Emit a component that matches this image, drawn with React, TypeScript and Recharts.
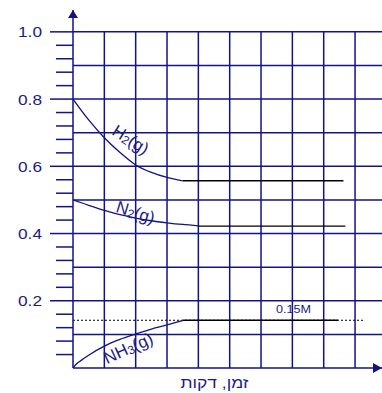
import React from "react";
import {
  LineChart,
  Line,
  XAxis,
  YAxis,
  ReferenceLine,
  ReferenceDot,
} from "recharts";

// time axis (grid units) and concentration (M)
const X_MAX = 9.86;
const Y_MAX = 1.065;

const H2_TIME = [0, 0.5, 1, 1.5, 2, 2.5, 3, 3.5];
const H2_CONC = [0.8, 0.738, 0.685, 0.641, 0.604, 0.582, 0.567, 0.557];
const H2_FLAT_TIME = [3.5, 8.63];
const H2_FLAT_CONC = [0.557, 0.557];

const N2_TIME = [0, 0.5, 1, 1.5, 2, 2.5, 3, 3.5, 4];
const N2_CONC = [0.5, 0.484, 0.469, 0.456, 0.446, 0.438, 0.432, 0.427, 0.423];
const N2_FLAT_TIME = [4, 8.69];
const N2_FLAT_CONC = [0.422, 0.422];

const NH3_TIME = [0, 0.1, 0.25, 0.5, 1, 1.5, 2, 2.5, 3, 3.5];
const NH3_CONC = [0, 0.011, 0.022, 0.038, 0.065, 0.085, 0.101, 0.116, 0.128, 0.141];
const NH3_FLAT_TIME = [3.5, 8.46];
const NH3_FLAT_CONC = [0.142, 0.142];
const EQ_LINE_TIME = [0, 9.26];
const EQ_LINE_CONC = [0.142, 0.142];

const X_GRID = [1, 2, 3, 4, 5, 6, 7, 8, 9];
const Y_GRID = [0.1, 0.2, 0.3, 0.4, 0.5, 0.6, 0.7, 0.8, 0.9, 1.0];
const Y_TICKS = [
  0.04, 0.08, 0.12, 0.16, 0.2, 0.24, 0.28, 0.32, 0.36, 0.4, 0.44, 0.48, 0.52,
  0.56, 0.6, 0.64, 0.68, 0.72, 0.76, 0.8, 0.84, 0.88, 0.92, 0.96, 1.0,
];
const Y_MAJOR = [0.2, 0.4, 0.6, 0.8, 1.0];

const SPECIES = ["H", "N", "NH"];
const SPECIES_SUB = ["2", "2", "3"];
const EQ_LABEL = "0.15M";
const X_TITLE = "זמן, דקות";

// where each curve label sits (data coords) and its tilt
const LABEL_POS = [
  { t: 1.84, c: 0.679, angle: 32 },
  { t: 1.995, c: 0.463, angle: 17 },
  { t: 1.765, c: 0.059, angle: -25 },
];

const NAVY = "#12128a";
const TEXT_NAVY = "#1c1c82";
const FONT = '"Liberation Sans", Arial, sans-serif';

const zip = (ts: number[], cs: number[]) => ts.map((t, i) => ({ t, c: cs[i] }));

const YTick = (props: any) => {
  const { x, y, payload } = props;
  const v = payload.value;
  const major = Y_MAJOR.some((m) => Math.abs(m - v) < 1e-6);
  return (
    <g>
      <line x1={x - (major ? 23 : 17)} x2={x} y1={y} y2={y} stroke={NAVY} strokeWidth={1.5} />
      {major && (
        <text
          x={x - 31}
          y={y}
          textAnchor="end"
          dominantBaseline="central"
          fill={TEXT_NAVY}
          fontSize={15.5}
          fontFamily={FONT}
          textLength={24}
          lengthAdjust="spacingAndGlyphs"
        >
          {v.toFixed(1)}
        </text>
      )}
    </g>
  );
};

const CurveLabel = ({ cx, cy, main, sub, angle }: any) => (
  <text
    x={cx}
    y={cy}
    transform={`rotate(${angle} ${cx} ${cy})`}
    textAnchor="middle"
    dominantBaseline="central"
    fill={TEXT_NAVY}
    fontSize={17}
    fontFamily={FONT}
  >
    {main}
    <tspan fontSize={12} dy={3}>
      {sub}
    </tspan>
    <tspan dy={-3}>(g)</tspan>
  </text>
);

const XTitle = (props: any) => {
  const vb = props.viewBox;
  return (
    <text
      x={vb.x + vb.width / 2 - 13}
      y={vb.y + vb.height - 5}
      textAnchor="middle"
      fill={TEXT_NAVY}
      fontSize={15}
      fontFamily={FONT}
      textLength={68}
      lengthAdjust="spacingAndGlyphs"
    >
      {X_TITLE}
    </text>
  );
};

export default function App() {
  const lineProps = {
    dataKey: "c",
    dot: false,
    activeDot: false,
    isAnimationActive: false,
  };

  return (
    <div style={{ position: "absolute", left: 0, top: 0, background: "#fff" }}>
      <LineChart
        width={382}
        height={393}
        margin={{ top: 10, right: 0, left: 0, bottom: 0 }}
        style={{ fontFamily: FONT }}
      >
        <XAxis
          dataKey="t"
          type="number"
          domain={[0, X_MAX]}
          allowDataOverflow
          tick={false}
          tickLine={false}
          height={25}
          axisLine={{ stroke: NAVY, strokeWidth: 1.5 }}
          label={<XTitle />}
        />
        <YAxis
          type="number"
          domain={[0, Y_MAX]}
          allowDataOverflow
          ticks={Y_TICKS}
          interval={0}
          tickLine={false}
          tickSize={0}
          tickMargin={0}
          width={73}
          tick={<YTick />}
          axisLine={{ stroke: NAVY, strokeWidth: 1.5 }}
        />

        {Y_GRID.map((v) => (
          <ReferenceLine key={`h${v}`} y={v} stroke={NAVY} strokeWidth={1.5} />
        ))}
        {X_GRID.map((k) => (
          <ReferenceLine
            key={`v${k}`}
            segment={[
              { x: k, y: 0 },
              { x: k, y: 1 },
            ]}
            stroke={NAVY}
            strokeWidth={1.5}
          />
        ))}

        <Line
          {...lineProps}
          data={zip(EQ_LINE_TIME, EQ_LINE_CONC)}
          type="linear"
          stroke="#000"
          strokeWidth={1}
          strokeDasharray="2 2"
        />

        <Line {...lineProps} data={zip(H2_TIME, H2_CONC)} type="monotone" stroke={NAVY} strokeWidth={1.3} />
        <Line {...lineProps} data={zip(N2_TIME, N2_CONC)} type="monotone" stroke={NAVY} strokeWidth={1.3} />
        <Line {...lineProps} data={zip(NH3_TIME, NH3_CONC)} type="monotone" stroke={NAVY} strokeWidth={1.3} />

        <Line {...lineProps} data={zip(H2_FLAT_TIME, H2_FLAT_CONC)} type="linear" stroke="#000" strokeWidth={1.4} />
        <Line {...lineProps} data={zip(N2_FLAT_TIME, N2_FLAT_CONC)} type="linear" stroke="#000" strokeWidth={1.4} />
        <Line {...lineProps} data={zip(NH3_FLAT_TIME, NH3_FLAT_CONC)} type="linear" stroke="#000" strokeWidth={1.4} />

        {LABEL_POS.map((p, i) => (
          <ReferenceDot
            key={SPECIES[i]}
            x={p.t}
            y={p.c}
            r={0}
            shape={(s: any) => (
              <CurveLabel cx={s.cx} cy={s.cy} main={SPECIES[i]} sub={SPECIES_SUB[i]} angle={p.angle} />
            )}
          />
        ))}

        <ReferenceDot
          x={7.04}
          y={EQ_LINE_CONC[0]}
          r={0}
          shape={(s: any) => (
            <text
              x={s.cx}
              y={s.cy - 7}
              textAnchor="middle"
              fill={TEXT_NAVY}
              fontSize={11.5}
              fontFamily={FONT}
              textLength={35}
              lengthAdjust="spacingAndGlyphs"
            >
              {EQ_LABEL}
            </text>
          )}
        />

        {/* axis arrowheads */}
        <ReferenceDot
          x={0}
          y={Y_MAX}
          r={0}
          shape={(s: any) => (
            <polygon
              points={`${s.cx},${s.cy} ${s.cx - 5},${s.cy + 8} ${s.cx + 5},${s.cy + 8}`}
              fill={NAVY}
            />
          )}
        />
        <ReferenceDot
          x={X_MAX}
          y={0}
          r={0}
          shape={(s: any) => (
            <polygon
              points={`${s.cx},${s.cy} ${s.cx - 9},${s.cy - 5} ${s.cx - 9},${s.cy + 5}`}
              fill={NAVY}
            />
          )}
        />
      </LineChart>
    </div>
  );
}
